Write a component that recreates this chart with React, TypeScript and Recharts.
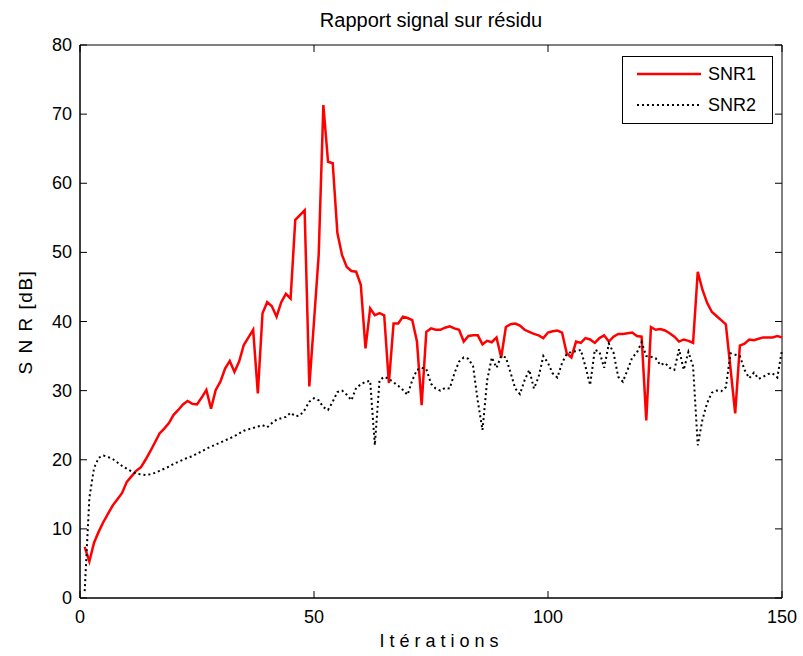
import { Line, LineChart, ReferenceArea, XAxis, YAxis } from 'recharts';

// iteration index 1..150
const iterations = Array.from({ length: 150 }, (_, i) => i + 1);

const snr1 = [
  7.4, 5.3, 8.0, 9.6, 11.0, 12.2, 13.4, 14.3, 15.2, 16.8,
  17.6, 18.4, 18.9, 20.0, 21.2, 22.5, 23.8, 24.5, 25.3, 26.5,
  27.2, 28.0, 28.5, 28.1, 28.0, 29.0, 30.1, 27.4, 30.1, 31.3,
  33.2, 34.3, 32.7, 34.2, 36.6, 37.7, 38.8, 29.6, 41.2, 42.8,
  42.2, 40.7, 42.8, 44.0, 43.3, 54.7, 55.4, 56.1, 30.6, 40.0,
  49.6, 71.3, 63.1, 62.9, 52.8, 49.6, 47.9, 47.3, 47.2, 45.3,
  36.1, 41.9, 40.9, 41.2, 40.9, 31.1, 39.7, 39.7, 40.7, 40.5,
  40.2, 37.1, 27.9, 38.5, 39.0, 38.8, 38.8, 39.1, 39.3, 39.0,
  38.8, 37.1, 37.9, 38.0, 38.0, 36.7, 37.2, 37.0, 37.7, 34.8,
  39.2, 39.6, 39.7, 39.4, 38.8, 38.5, 38.2, 38.0, 37.6, 38.4,
  38.6, 38.7, 38.4, 35.4, 34.8, 37.1, 36.9, 37.6, 37.4, 36.9,
  37.6, 38.0, 37.1, 37.8, 38.2, 38.2, 38.3, 38.4, 37.9, 37.8,
  25.7, 39.2, 38.8, 38.9, 38.7, 38.3, 37.8, 37.1, 37.4, 37.2,
  36.9, 47.2, 44.6, 42.7, 41.4, 40.8, 40.2, 39.6, 33.2, 26.7,
  36.5, 36.8, 37.4, 37.3, 37.5, 37.7, 37.7, 37.7, 37.9, 37.7,
];

const snr2 = [
  1.0, 14.5, 18.8, 20.3, 20.6, 20.4, 20.1, 19.6, 19.1, 18.7,
  18.3, 18.0, 17.9, 17.8, 17.9, 18.1, 18.4, 18.7, 19.0, 19.4,
  19.7, 20.0, 20.3, 20.5, 20.9, 21.2, 21.6, 21.9, 22.2, 22.5,
  22.8, 23.1, 23.4, 23.8, 24.2, 24.4, 24.6, 24.8, 25.0, 24.7,
  25.3, 25.8, 26.0, 26.2, 26.8, 26.3, 26.4, 27.2, 28.4, 28.9,
  28.6, 27.6, 27.2, 28.4, 29.8, 30.0, 29.4, 28.6, 30.4, 30.9,
  31.3, 31.4, 22.1, 31.5, 32.0, 31.7, 31.2, 30.7, 30.1, 29.4,
  31.5, 33.0, 33.3, 33.1, 31.0, 30.3, 30.0, 30.4, 30.3, 32.5,
  34.2, 34.8, 34.6, 33.5, 28.5, 24.3, 31.5, 34.8, 33.3, 35.0,
  34.8, 32.6, 30.3, 29.5, 31.5, 33.0, 30.3, 32.0, 35.0, 34.0,
  32.5, 31.9, 34.0, 35.3, 35.6, 35.7, 35.9, 33.5, 30.8, 35.9,
  35.6, 33.3, 36.8, 35.5, 32.0, 31.3, 33.0, 34.8, 35.5, 37.0,
  35.0, 34.9, 34.7, 33.7, 34.0, 33.3, 33.0, 36.0, 33.0, 35.6,
  33.5, 22.1, 25.8, 28.2, 29.7, 30.0, 29.9, 30.5, 35.4, 35.2,
  35.0, 33.0, 31.8, 32.6, 31.7, 32.0, 32.4, 32.5, 31.9, 35.9,
];

const xTicks = [0, 50, 100, 150];
const yTicks = [0, 10, 20, 30, 40, 50, 60, 70, 80];

const data = iterations.map((it, i) => ({ it, snr1: snr1[i], snr2: snr2[i] }));

const FONT = '"Liberation Sans", Arial, Helvetica, sans-serif';
const W = 803;
const H = 656;
// plot frame in pixels
const BOX = { left: 80, top: 45, right: 782, bottom: 598 };
const TICK = 7;

function XTick({ x, y, payload }: any) {
  return (
    <g>
      <line x1={x} x2={x} y1={BOX.bottom} y2={BOX.bottom - TICK} stroke="#000" />
      <line x1={x} x2={x} y1={BOX.top} y2={BOX.top + TICK} stroke="#000" />
      <text x={x} y={y} dy={17} textAnchor="middle" fontSize={18} fontFamily={FONT} fill="#000">
        {payload.value}
      </text>
    </g>
  );
}

function YTick({ x, y, payload }: any) {
  return (
    <g>
      <line x1={BOX.left} x2={BOX.left + TICK} y1={y} y2={y} stroke="#000" />
      <line x1={BOX.right} x2={BOX.right - TICK} y1={y} y2={y} stroke="#000" />
      <text x={x} y={y} dy={6} textAnchor="end" fontSize={18} fontFamily={FONT} fill="#000">
        {payload.value}
      </text>
    </g>
  );
}

const legendRows = [
  { name: 'SNR1', color: '#ff0000', width: 2.5, dash: undefined },
  { name: 'SNR2', color: '#000', width: 2, dash: '2 3' },
];

function LegendBox() {
  return (
    <div
      style={{
        position: 'absolute',
        left: 622,
        top: 56,
        width: 151,
        height: 68,
        boxSizing: 'border-box',
        border: '1px solid #000',
        background: '#fff',
        fontSize: 18,
      }}
    >
      {legendRows.map((r, i) => (
        <div key={r.name} style={{ position: 'absolute', left: 0, top: 6 + i * 31, height: 22, display: 'flex', alignItems: 'center' }}>
          <svg width={85} height={22}>
            <line x1={14} x2={78} y1={11} y2={11} stroke={r.color} strokeWidth={r.width} strokeDasharray={r.dash} />
          </svg>
          <span>{r.name}</span>
        </div>
      ))}
    </div>
  );
}

export default function App() {
  return (
    <div style={{ position: 'absolute', left: 0, top: 0, width: W, height: H, background: '#fff', fontFamily: FONT, color: '#000' }}>
      <div style={{ position: 'absolute', left: BOX.left, width: BOX.right - BOX.left, top: 9, textAlign: 'center', fontSize: 20 }}>
        Rapport signal sur résidu
      </div>
      <LineChart width={W} height={H} data={data} margin={{ top: BOX.top, right: W - BOX.right, bottom: 0, left: 0 }}>
        <XAxis
          dataKey="it"
          type="number"
          domain={[0, 150]}
          ticks={xTicks}
          height={H - BOX.bottom}
          tickSize={0}
          tickMargin={8}
          tickLine={false}
          axisLine={{ stroke: '#000' }}
          tick={<XTick />}
          interval={0}
        />
        <YAxis
          type="number"
          domain={[0, 80]}
          ticks={yTicks}
          width={BOX.left}
          tickSize={0}
          tickMargin={8}
          tickLine={false}
          axisLine={{ stroke: '#000' }}
          tick={<YTick />}
          interval={0}
        />
        <ReferenceArea x1={0} x2={150} y1={0} y2={80} fill="none" stroke="#000" strokeWidth={1} />
        <Line dataKey="snr1" type="linear" stroke="#ff0000" strokeWidth={2.5} dot={false} isAnimationActive={false} />
        <Line dataKey="snr2" type="linear" stroke="#000" strokeWidth={2} strokeDasharray="2 3" dot={false} isAnimationActive={false} />
      </LineChart>
      <LegendBox />
      <div style={{ position: 'absolute', left: BOX.left + 8, width: BOX.right - BOX.left, top: 631, textAlign: 'center', fontSize: 18 }}>
        I t é r a t i o n s
      </div>
      <div
        style={{
          position: 'absolute',
          left: 26,
          top: (BOX.top + BOX.bottom) / 2,
          transform: 'translate(-50%, -50%) rotate(-90deg)',
          whiteSpace: 'nowrap',
          fontSize: 19,
          letterSpacing: 1.5,
        }}
      >
        S N R [dB]
      </div>
    </div>
  );
}
